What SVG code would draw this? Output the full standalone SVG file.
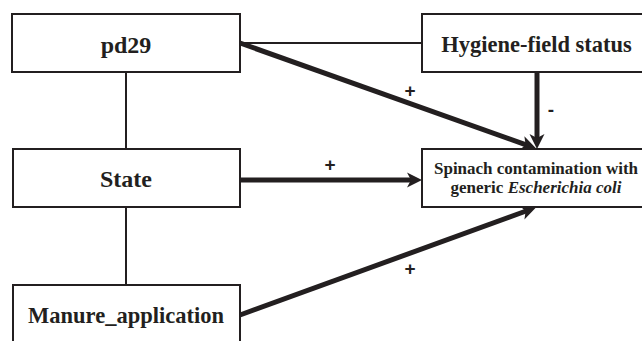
<svg xmlns="http://www.w3.org/2000/svg" width="642" height="341" viewBox="0 0 642 341">
<style>
.box{fill:#fff;stroke:#231f20;stroke-width:2}
.lbl{font-family:"Liberation Serif","Times New Roman",serif;font-weight:bold;fill:#231f20;text-anchor:middle}
.thin{stroke:#231f20;stroke-width:2;fill:none}
.thick{stroke:#231f20;stroke-width:5;fill:none;marker-end:url(#ah)}
.sign{font-family:"Liberation Sans",Arial,sans-serif;font-weight:bold;font-size:19px;fill:#231f20;text-anchor:middle}
</style>
<defs>
<marker id="ah" markerUnits="userSpaceOnUse" markerWidth="16" markerHeight="16" refX="6" refY="8" orient="auto" viewBox="0 0 16 16">
<path d="M0,0.5 L15,8 L0,15.5 L4,8 z" fill="#231f20"/>
</marker>
</defs>
<rect width="642" height="341" fill="#fff"/>
<g id="connectors">
<line class="thin" x1="126" y1="72" x2="126" y2="149"/>
<line class="thin" x1="126" y1="207" x2="126" y2="285"/>
<line class="thin" x1="240" y1="43" x2="422" y2="43"/>
<line class="thick" x1="240" y1="43" x2="527.5" y2="145.3"/>
<line class="thick" x1="537" y1="72" x2="537" y2="140"/>
<line class="thick" x1="240" y1="180" x2="413" y2="180"/>
<line class="thick" x1="240" y1="315" x2="527.5" y2="210.5"/>
<text class="sign" x="410" y="97">+</text>
<text class="sign" x="551" y="116">-</text>
<text class="sign" x="330" y="171">+</text>
<text class="sign" x="410" y="275">+</text>
</g>
<g id="pd29">
<rect class="box" x="12" y="14" width="228" height="58"/>
<text class="lbl" x="126" y="53" font-size="24">pd29</text>
</g>
<g id="hygiene">
<rect class="box" x="422" y="14" width="224" height="58"/>
<text class="lbl" x="536.5" y="52" font-size="22.5">Hygiene-field status</text>
</g>
<g id="state">
<rect class="box" x="13" y="149" width="227" height="58"/>
<text class="lbl" x="126" y="187" font-size="24">State</text>
</g>
<g id="spinach">
<rect class="box" x="422" y="149" width="224" height="58"/>
<text class="lbl" x="536" y="174" font-size="17">Spinach contamination with</text>
<text class="lbl" x="536" y="193" font-size="17">generic <tspan font-style="italic">Escherichia coli</tspan></text>
</g>
<g id="manure">
<rect class="box" x="13" y="285" width="227" height="62"/>
<text class="lbl" x="126" y="323" font-size="22.5">Manure_application</text>
</g>
</svg>
